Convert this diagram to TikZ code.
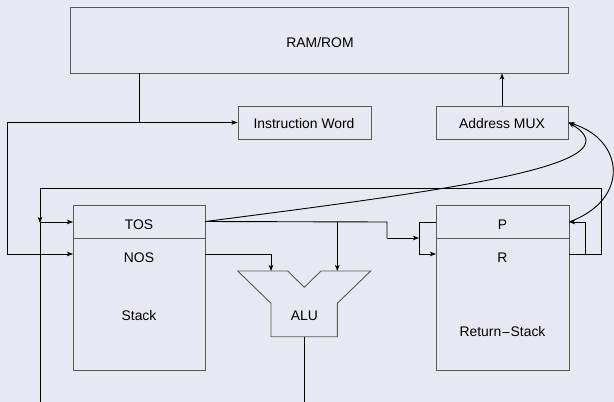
\documentclass[tikz,border=0pt]{standalone}
\usepackage{fontspec}
\setmainfont{Liberation Sans}
\usetikzlibrary{arrows.meta}
\definecolor{bgc}{RGB}{232,232,242}
\begin{document}
\begin{tikzpicture}[x=1pt,y=-1pt,
  every node/.style={font=\fontsize{13.9}{16}\selectfont, inner sep=0pt},
  box/.style={draw=black!65, line width=0.9pt, rectangle},
  wire/.style={draw=black, line width=0.9pt},
  arr/.style={wire, -{Stealth[length=6pt,width=4.5pt,inset=1.5pt]}}]
\fill[bgc] (0,0) rectangle (614,402);
\useasboundingbox (0,0) rectangle (614,402);
% boxes
\node[box, minimum width=498, minimum height=66] (ram) at (319,40) {};
\node (ramt) at (320,43) {RAM/ROM};
\node[box, minimum width=133, minimum height=33] (iw) at (304.5,122.5) {};
\node (iwt) at (304,124) {Instruction Word};
\node[box, minimum width=132, minimum height=33] (amux) at (502,122.5) {};
\node (amuxt) at (502,124) {Address MUX};
\node[box, minimum width=132, minimum height=33] (tos) at (139,221.5) {};
\node (tost) at (139,224.5) {TOS};
\node[box, minimum width=132, minimum height=132] (stk) at (139,304) {};
\node (nos) at (139,258) {NOS};
\node (stackt) at (139,316) {Stack};
\node[box, minimum width=133, minimum height=33] (p) at (502.5,221.5) {};
\node (pt) at (502.5,224.5) {P};
\node[box, minimum width=133, minimum height=132] (rs) at (502.5,304) {};
\node (rt) at (502.5,258) {R};
\node (rst) at (502.5,331.5) {Return{\fontspec{DejaVu Sans}\raisebox{0.3pt}{\scalebox{0.8}{−}}}Stack};
% ALU
\coordinate (a1) at (237.7,271);
\coordinate (a2) at (287.7,271);
\coordinate (a3) at (304.3,287.3);
\coordinate (a4) at (321,271);
\coordinate (a5) at (370.7,271);
\coordinate (a6) at (337.3,303.3);
\coordinate (a7) at (337.3,336.7);
\coordinate (a8) at (271,336.7);
\coordinate (a9) at (271,303.3);
\draw[box] (a1) -- (a2) -- (a3) -- (a4) -- (a5) -- (a6) -- (a7) -- (a8) -- (a9) -- cycle;
\node (alu) at (304.3,316) {ALU};
\coordinate (aluout) at (304.3,336.7);
\coordinate (aluin1) at (271,271);
\coordinate (aluin2) at (337.3,271);
% helper coordinates
\coordinate (j1) at (139,122.5);
\coordinate (c1) at (7,122.5);
\coordinate (c2) at (7,254);
\coordinate (nosin) at (73,254);
\coordinate (tosin) at (73,222);
\coordinate (l1) at (40,188);
\coordinate (l2) at (40,222);
\coordinate (l3) at (40,402);
\coordinate (r1) at (601,188);
\coordinate (r2) at (601,254);
\coordinate (rout) at (569,254);
\coordinate (pin) at (569,222);
\coordinate (v1) at (585,254);
\coordinate (v2) at (585,222);
\coordinate (t1) at (387,222);
\coordinate (t2) at (387,238);
\coordinate (b1) at (419,238);
\coordinate (b2) at (419,222);
\coordinate (b3) at (419,254);
\coordinate (rin) at (436,254);
\coordinate (pleft) at (436,222);
\coordinate (n1) at (205,254);
\coordinate (bot) at (304.3,402);
% connectors
\draw[wire] (ram.south -| j1) -- (j1);
\draw[arr] (c1) -- (iw.west);
\draw[arr] (c1) -- (c2) -- (nosin);
\draw[arr] (amux.north) -- (amux.north |- ram.south);
\draw[arr] (rout) -- (r2) -- (r1) -- (l1) -- ([yshift=-1pt]l2);
\draw[wire] (l2) -- (l3);
\draw[arr] (l2) -- (tosin);
\draw[arr] (v1) -- (v2) -- (pin);
\draw[wire] (tos.east) -- (t1) -- (t2);
\draw[arr] (t2) -- (b1);
\draw[arr] (aluin2 |- t1) -- (aluin2);
\draw[arr] (n1) -- (n1 -| aluin1) -- (aluin1);
\draw[wire] (pleft) -- (b2) -- (b3);
\draw[arr] (b3) -- (rin);
\draw[wire] (aluout) -- (bot);
\draw[arr] (tos.east) .. controls (450,190) and (640,165) .. (amux.east);
\draw[arr] (pin) .. controls (630,200) and (625,140) .. (amux.east);
\end{tikzpicture}
\end{document}
